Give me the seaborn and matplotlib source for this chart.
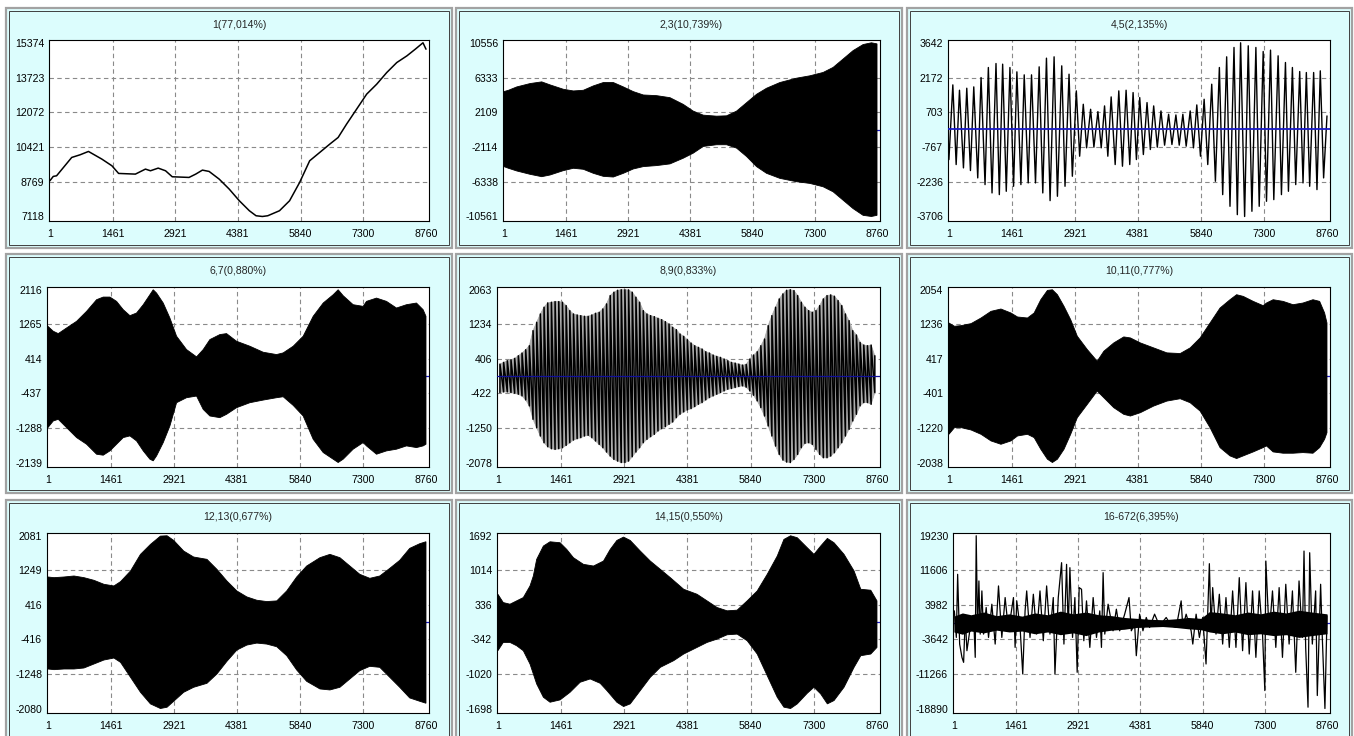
# SSA components chart: 9 panels, hourly index 1..8760
import numpy as np
import matplotlib
matplotlib.use("Agg")
import matplotlib.pyplot as plt
import seaborn as sns
from matplotlib.patches import Rectangle

sns.set_theme(style="white")
plt.rcParams["font.family"] = ["Liberation Sans", "DejaVu Sans"]

# -------------------------------
# Data
# -------------------------------
X_TICKS = [1, 1461, 2921, 4381, 5840, 7300, 8760]

TITLES = ["1(77,014%)", "2,3(10,739%)", "4,5(2,135%)",
          "6,7(0,880%)", "8,9(0,833%)", "10,11(0,777%)",
          "12,13(0,677%)", "14,15(0,550%)", "16-672(6,395%)"]

Y_TICKS = [
    [7118, 8769, 10421, 12072, 13723, 15374],
    [-10561, -6338, -2114, 2109, 6333, 10556],
    [-3706, -2236, -767, 703, 2172, 3642],
    [-2139, -1288, -437, 414, 1265, 2116],
    [-2078, -1250, -422, 406, 1234, 2063],
    [-2038, -1220, -401, 417, 1236, 2054],
    [-2080, -1248, -416, 416, 1249, 2081],
    [-1698, -1020, -342, 336, 1014, 1692],
    [-18890, -11266, -3642, 3982, 11606, 19230],
]

# component 1: trend
P1_X = [1, 79, 157, 509, 704, 899, 1211, 1445, 1601, 1992, 2226, 2343, 2523, 2694, 2850,
        3241, 3397, 3553, 3709, 3943, 4177, 4412, 4646, 4802, 4950, 5075, 5348, 5583, 5817,
        6051, 6285, 6519, 6714, 6910, 7144, 7378, 7612, 7846, 8080, 8315, 8510, 8690, 8760]
P1_Y = [8816, 9022, 9053, 9924, 10050, 10209, 9845, 9528, 9164, 9132, 9370, 9291, 9417, 9291, 9006,
        8974, 9132, 9322, 9259, 8895, 8420, 7866, 7391, 7153, 7118, 7153, 7391, 7866, 8736,
        9766, 10161, 10557, 10874, 11507, 12219, 12932, 13406, 13960, 14435, 14752, 15069, 15374, 15069]

# components 2,3: envelope
P2_X = [1, 109, 304, 617, 890, 1086, 1398, 1633, 1867, 2102, 2336, 2571, 2806, 3040, 3275, 3587,
        3900, 4213, 4447, 4682, 4994, 5229, 5463, 5698, 5932, 6167, 6480, 6871, 7183, 7496, 7730,
        7965, 8199, 8434, 8629, 8760]
P2_UP = [4618, 4782, 5190, 5599, 5804, 5436, 4904, 4700, 4782, 5313, 5722, 5722, 5190, 4618, 4210, 4128,
         3883, 3065, 2248, 1757, 1635, 1676, 2248, 3270, 4291, 5027, 5722, 6253, 6539, 6948, 7561,
         8583, 9604, 10340, 10556, 10422]
P2_LO = [-4496, -4700, -5027, -5436, -5722, -5517, -4986, -4700, -4823, -5313, -5681, -5763, -5313, -4782,
         -4496, -4373, -4169, -3474, -2861, -2044, -1839, -1839, -2248, -3270, -4496, -5313, -5926, -6335,
         -6539, -6948, -7561, -8583, -9604, -10421, -10561, -10421]

# components 4,5: peaks and troughs
P3_X = [1, 92, 169, 246, 338, 415, 500, 577, 669, 746, 838, 915, 1000, 1092, 1169, 1246, 1330, 1415,
        1499, 1576, 1669, 1746, 1838, 1915, 2007, 2092, 2176, 2261, 2345, 2438, 2515, 2615, 2691, 2784,
        2861, 2953, 3030, 3114, 3191, 3284, 3360, 3453, 3530, 3607, 3683, 3760, 3853, 3937, 4022, 4106,
        4191, 4268, 4345, 4422, 4506, 4591, 4668, 4745, 4829, 4914, 4998, 5091, 5168, 5260, 5337, 5421,
        5498, 5591, 5667, 5744, 5829, 5914, 5998, 6090, 6175, 6267, 6344, 6436, 6513, 6606, 6683, 6759,
        6852, 6936, 7021, 7113, 7190, 7282, 7359, 7452, 7528, 7628, 7705, 7798, 7867, 7959, 8036, 8128,
        8205, 8282, 8359, 8451, 8528, 8605, 8682, 8760]
P3_Y = [-1300, 1861, -1509, 1635, -1650, 1720, -1763, 1776, -2074, 2172, -2357, 2596, -2710, 2765, -2781,
        2737, -2640, 2596, -2428, 2412, -2357, 2285, -2286, 2285, -2286, 2624, -2710, 2991, -3035, 3048,
        -2851, 2666, -2428, 2313, -2004, 1607, -1156, 1041, -802, 829, -774, 730, -802, 971, -1156, 1352,
        -1509, 1607, -1580, 1635, -1509, 1536, -1297, 1324, -1085, 1112, -873, 971, -774, 759, -689, 617,
        -661, 589, -689, 617, -731, 759, -802, 1013, -1156, 1253, -1509, 1889, -2216, 2596, -2781, 3048,
        -3275, 3444, -3628, 3642, -3706, 3514, -3486, 3444, -3275, 3274, -3063, 3331, -2993, 3090, -2781,
        2808, -2640, 2596, -2357, 2426, -2286, 2384, -2428, 2384, -2569, 2455, -2074, 547]

# components 6,7: envelope
P4_X = [1, 125, 241, 434, 666, 897, 1129, 1283, 1438, 1592, 1747, 1901, 2055, 2210, 2364, 2441, 2519,
        2673, 2827, 2982, 3213, 3445, 3599, 3754, 3985, 4140, 4371, 4680, 4989, 5298, 5452, 5684, 5915,
        6147, 6379, 6610, 6726, 6842, 7073, 7305, 7382, 7614, 7845, 8077, 8309, 8540, 8694, 8760]
P4_UP = [1216, 1094, 1036, 1175, 1339, 1584, 1871, 1936, 1936, 1830, 1625, 1478, 1543, 1748, 1993, 2116,
         2034, 1789, 1421, 971, 643, 463, 643, 889, 1012, 1036, 848, 725, 577, 520, 561, 725, 971, 1462,
         1789, 1993, 2116, 1969, 1748, 1707, 1830, 1911, 1830, 1666, 1748, 1789, 1625, 1462]
P4_LO = [-1280, -1116, -1075, -1280, -1525, -1689, -1935, -1959, -1853, -1689, -1525, -1484, -1607, -1853,
         -2057, -2098, -1975, -1648, -1239, -666, -543, -502, -830, -993, -1034, -952, -789, -666, -601,
         -543, -519, -732, -993, -1566, -1893, -2057, -2139, -2057, -1811, -1648, -1730, -1935, -1853,
         -1811, -1730, -1771, -1730, -1689]

# components 8,9: stripe tops and bottoms
P5_X = [48, 133, 218, 303, 388, 473, 558, 643, 728, 813, 897, 982, 1067, 1152, 1237, 1322, 1407, 1492,
        1577, 1662, 1747, 1832, 1916, 2001, 2086, 2171, 2256, 2341, 2426, 2511, 2596, 2681, 2766, 2851,
        2935, 3020, 3105, 3190, 3275, 3360, 3445, 3530, 3615, 3700, 3785, 3870, 3955, 4039, 4124, 4209,
        4294, 4379, 4464, 4549, 4634, 4719, 4804, 4889, 4974, 5058, 5143, 5228, 5313, 5398, 5483, 5568,
        5653, 5738, 5823, 5908, 5993, 6077, 6162, 6247, 6332, 6417, 6502, 6587, 6672, 6757, 6842, 6927,
        7012, 7096, 7181, 7266, 7351, 7436, 7521, 7606, 7691, 7776, 7861, 7946, 8031, 8115, 8200, 8285,
        8370, 8455, 8540, 8625, 8710]
P5_TOP = [280, 321, 361, 385, 417, 481, 545, 625, 721, 1082, 1282, 1482, 1643, 1747, 1763, 1779, 1779,
          1763, 1683, 1562, 1482, 1458, 1442, 1426, 1426, 1458, 1498, 1522, 1603, 1723, 1923, 2003, 2050,
          2063, 2063, 2059, 2003, 1883, 1763, 1562, 1482, 1442, 1418, 1378, 1346, 1298, 1242, 1162, 1106,
          1002, 946, 865, 785, 721, 681, 641, 577, 545, 497, 465, 441, 401, 361, 321, 304, 280, 256, 272,
          401, 497, 577, 721, 881, 1202, 1442, 1643, 1843, 1963, 2050, 2063, 2043, 1923, 1763, 1643, 1562,
          1522, 1562, 1683, 1843, 1923, 1939, 1907, 1803, 1683, 1482, 1322, 1082, 978, 801, 737, 721, 737,
          481]
P5_BOT = [-401, -385, -385, -401, -417, -441, -481, -577, -721, -1042, -1242, -1442, -1603, -1699, -1747,
          -1763, -1747, -1723, -1667, -1603, -1539, -1506, -1482, -1442, -1426, -1482, -1562, -1643, -1723,
          -1827, -1923, -2003, -2043, -2078, -2078, -2043, -1939, -1827, -1723, -1603, -1522, -1458, -1402,
          -1322, -1266, -1218, -1162, -1106, -1002, -921, -865, -817, -785, -737, -681, -641, -577, -521,
          -481, -441, -401, -361, -321, -304, -280, -256, -240, -272, -361, -465, -601, -761, -962, -1202,
          -1442, -1683, -1883, -2019, -2067, -2078, -2003, -1883, -1723, -1619, -1603, -1643, -1763, -1883,
          -1963, -1963, -1923, -1843, -1723, -1603, -1442, -1282, -1082, -921, -721, -641, -641, -681, -401]

# components 10,11: envelope
P6_X = [1, 131, 284, 515, 746, 977, 1207, 1438, 1592, 1822, 1976, 2130, 2284, 2399, 2515, 2668, 2822,
        2976, 3207, 3437, 3591, 3822, 4053, 4206, 4437, 4745, 5052, 5360, 5591, 5821, 6052, 6283, 6513,
        6667, 6821, 7052, 7282, 7359, 7513, 7744, 7974, 8205, 8436, 8590, 8705, 8760]
P6_UP = [1267, 1189, 1204, 1252, 1385, 1543, 1598, 1504, 1409, 1385, 1504, 1818, 2039, 2054, 1937, 1661,
         1346, 953, 638, 362, 598, 795, 937, 913, 795, 677, 559, 543, 677, 913, 1267, 1622, 1818, 1937,
         1897, 1779, 1677, 1740, 1818, 1779, 1700, 1740, 1818, 1779, 1504, 1267]
P6_LO = [-1370, -1212, -1212, -1267, -1370, -1527, -1606, -1527, -1409, -1370, -1448, -1724, -1960, -2038,
         -1960, -1724, -1370, -976, -661, -346, -504, -740, -897, -937, -858, -701, -583, -527, -622, -819,
         -1212, -1685, -1881, -1944, -1881, -1787, -1685, -1645, -1787, -1818, -1818, -1803, -1818, -1685,
         -1488, -1330]

# components 12,13: envelope
P7_X = [1, 144, 375, 606, 837, 1068, 1299, 1530, 1684, 1915, 2146, 2377, 2608, 2762, 2916, 3147, 3378,
        3686, 3917, 4148, 4379, 4610, 4841, 5072, 5303, 5534, 5765, 5996, 6304, 6535, 6766, 6997, 7228,
        7459, 7690, 7921, 8152, 8383, 8614, 8760]
P7_UP = [1088, 1072, 1088, 1112, 1072, 1008, 912, 872, 976, 1232, 1633, 1873, 2073, 2081, 1969, 1713, 1569,
         1513, 1272, 992, 752, 608, 528, 496, 512, 752, 1088, 1352, 1553, 1633, 1553, 1352, 1152, 1056,
         1112, 1296, 1489, 1777, 1889, 1937]
P7_LO = [-1128, -1144, -1128, -1128, -1104, -1008, -912, -864, -968, -1328, -1689, -1969, -2080, -2049,
         -1905, -1689, -1569, -1473, -1248, -944, -672, -552, -504, -528, -592, -808, -1152, -1425, -1609,
         -1633, -1569, -1368, -1168, -1064, -1088, -1328, -1569, -1825, -1905, -1953]

# components 14,15: envelope (upper and lower read at different points)
P8_X_UP = [1, 125, 280, 434, 588, 743, 820, 897, 1052, 1206, 1438, 1592, 1747, 1978, 2210, 2441, 2596,
           2750, 2905, 3059, 3291, 3522, 3754, 3985, 4294, 4603, 4835, 5066, 5298, 5529, 5761, 5993, 6224,
           6456, 6610, 6764, 6919, 7150, 7305, 7459, 7614, 7768, 7999, 8231, 8386, 8617, 8760]
P8_UP = [544, 381, 349, 414, 479, 707, 903, 1229, 1490, 1574, 1555, 1424, 1261, 1131, 1098, 1196, 1424,
         1600, 1666, 1600, 1392, 1196, 1033, 870, 642, 544, 414, 284, 219, 232, 414, 609, 935, 1294, 1620,
         1692, 1653, 1457, 1327, 1490, 1640, 1555, 1327, 1001, 642, 623, 414]
P8_X_LO = [1, 125, 280, 434, 588, 743, 897, 1052, 1206, 1438, 1669, 1901, 2133, 2364, 2519, 2750, 2905,
           3059, 3291, 3522, 3754, 4063, 4294, 4603, 4835, 5066, 5298, 5529, 5761, 5993, 6224, 6456, 6610,
           6764, 6919, 7150, 7305, 7459, 7614, 7768, 7999, 8231, 8386, 8617, 8760]
P8_LO = [-564, -401, -401, -466, -564, -825, -1216, -1477, -1575, -1529, -1379, -1183, -1118, -1203, -1346,
         -1575, -1659, -1607, -1346, -1086, -890, -759, -629, -499, -401, -336, -251, -238, -368, -629,
         -1053, -1477, -1672, -1698, -1607, -1398, -1281, -1411, -1607, -1542, -1281, -890, -662, -629, -499]

# components 16-672: residual spikes plus dense core band
P9_X = [11, 58, 89, 136, 190, 229, 268, 307, 385, 463, 502, 525, 557, 588, 619, 658, 697, 759, 814, 892,
        970, 1048, 1126, 1204, 1282, 1399, 1438, 1477, 1555, 1617, 1672, 1710, 1788, 1866, 1944, 2022,
        2100, 2178, 2256, 2334, 2373, 2451, 2529, 2584, 2646, 2685, 2724, 2786, 2841, 2895, 2942, 2997,
        3051, 3114, 3192, 3270, 3348, 3426, 3465, 3504, 3543, 3621, 3737, 3815, 3893, 4010, 4112, 4166,
        4244, 4283, 4361, 4439, 4517, 4595, 4712, 4829, 4985, 5102, 5219, 5336, 5375, 5453, 5570, 5609,
        5687, 5764, 5842, 5920, 5998, 6037, 6076, 6154, 6232, 6310, 6388, 6466, 6544, 6622, 6700, 6778,
        6856, 6934, 7012, 7090, 7168, 7246, 7300, 7324, 7402, 7480, 7558, 7636, 7714, 7792, 7870, 7948,
        8026, 8103, 8181, 8220, 8259, 8314, 8353, 8415, 8493, 8532, 8610, 8649, 8711, 8760]
P9_Y = [2661, -3203, 10724, -4669, -7601, -8701, 1195, -6135, -1004, 1561, -7601, 19230, -1737, 9258,
        -2470, 7059, -2470, 3394, -3203, 4127, -4669, 8159, -3203, 5593, -1737, 5593, -5402, 4860, -1004,
        -11266, 2661, 7059, -3203, 6326, -2470, 7059, -3936, 8159, -2470, 5593, -11266, 5593, 13289, -4669,
        12922, -1737, 12189, -3203, 5593, -10899, 7792, 7425, -3936, 4860, -5402, 5593, -3203, 2661, -5402,
        11090, -2470, 4127, -1737, 3027, -1737, 1928, 5593, -1737, -271, -7234, 1928, -1737, 1195, -1004,
        1928, -637, 1195, -637, -1004, 4860, -1004, 1928, -1737, -4669, 1928, -3203, 1195, -9067, 13069,
        -1004, 7792, -2470, 6326, -4669, 5593, -5402, 7059, -5402, 9991, -6135, 8892, -6868, 7059, -7601,
        7059, -2470, -14931, 13656, -2470, 7059, -5402, 7792, -7601, 8525, -4669, 7059, -10899, 9258,
        -3203, 15855, -5402, -18600, 15488, -4669, 7059, -16024, 8525, -3203, -18890, 1561]
P9_CORE_X = [1, 200, 400, 700, 1000, 1300, 1600, 1900, 2200, 2500, 2800, 3100, 3400, 3700, 4000, 4300,
             4600, 4900, 5200, 5500, 5800, 6000, 6300, 6600, 6900, 7200, 7500, 7800, 8100, 8400, 8760]
P9_CORE_HI = [1500, 2200, 1800, 2400, 1600, 2000, 1500, 2200, 1800, 2600, 2000, 2400, 1800, 1600, 1200,
              1000, 800, 700, 900, 1200, 1000, 2500, 2200, 1800, 2400, 2000, 2600, 2200, 2800, 2400, 2000]
P9_CORE_LO = [-2000, -2500, -1800, -2200, -1600, -2000, -1800, -2400, -2000, -2600, -2200, -2800, -2000,
              -1600, -1400, -1000, -900, -800, -1000, -1300, -1500, -2000, -2400, -2000, -2600, -2400,
              -2800, -2600, -3200, -2800, -2400]

# -------------------------------
# Layout (pixels of the 1354x736 canvas)
# -------------------------------
W, H = 1354, 736
FRAME_COLS = [(6, 452), (456, 902), (907, 1352)]
FRAME_ROWS = [(8, 248), (254, 493), (500, 740)]
AX_BOXES = [  # left, right, top, bottom
    (49, 429, 40, 221), (503, 880, 40, 221), (948, 1330, 40, 221),
    (47, 429, 287, 467), (497, 880, 287, 467), (948, 1330, 287, 467),
    (47, 429, 533, 713), (497, 880, 533, 713), (953, 1330, 533, 713),
]

GRID_KW = dict(color="#8a8a8a", lw=0.8, ls=(0, (4, 3)), zorder=0.5)
ZERO_COLOR = "#1a1ac8"

fig = plt.figure(figsize=(W / 100, H / 100), dpi=100, facecolor="white")

for (fx0, fx1) in FRAME_COLS:
    for (fy0, fy1) in FRAME_ROWS:
        fig.add_artist(Rectangle((fx0 / W, 1 - fy1 / H), (fx1 - fx0) / W, (fy1 - fy0) / H,
                                 transform=fig.transFigure, facecolor="#dcfdfd",
                                 edgecolor="#a2a2a2", lw=1.6, zorder=-5))
        fig.add_artist(Rectangle(((fx0 + 3) / W, 1 - (fy1 - 3) / H), (fx1 - fx0 - 6) / W,
                                 (fy1 - fy0 - 6) / H, transform=fig.transFigure,
                                 facecolor="none", edgecolor="#404040", lw=0.7, zorder=-4))

axes = []
for (l, r, t, b) in AX_BOXES:
    axes.append(fig.add_axes([l / W, 1 - b / H, (r - l) / W, (b - t) / H]))


def style_axis(ax, yticks, title):
    lo, hi = yticks[0], yticks[-1]
    span = hi - lo
    ax.set_facecolor("white")
    ax.set_xlim(-20, 8830)
    ax.set_ylim(lo - 0.026 * span, hi + 0.016 * span)
    ax.set_xticks(X_TICKS)
    ax.set_xticklabels([str(v) for v in X_TICKS])
    ax.set_yticks(yticks)
    ax.set_yticklabels([str(v) for v in yticks])
    ax.tick_params(axis="both", length=0, labelsize=7.6, colors="black")
    ax.tick_params(axis="x", pad=6)
    ax.tick_params(axis="y", pad=3.5)
    for v in X_TICKS[1:-1]:
        ax.axvline(v, **GRID_KW)
    for v in yticks[1:-1]:
        ax.axhline(v, **GRID_KW)
    for sp in ax.spines.values():
        sp.set_color("black")
        sp.set_linewidth(0.8)
        sp.set_visible(True)
    ax.set_title(title, fontsize=7.6, pad=9)
    ax.set_xlabel("")
    ax.set_ylabel("")


def envelope(ax, xu, yu, xl, yl, color="black", z=2):
    ax.fill(np.concatenate([xu, xl[::-1]]), np.concatenate([yu, yl[::-1]]),
            color=color, lw=0.6, zorder=z)


# panel 1: trend
ax = axes[0]
sns.lineplot(x=P1_X, y=P1_Y, ax=ax, color="black", lw=1.1, estimator=None, sort=False, zorder=2)

# panel 2
ax = axes[1]
ax.axhline(0, color=ZERO_COLOR, lw=0.9, zorder=1)
envelope(ax, P2_X, P2_UP, P2_X, P2_LO)

# panel 3
ax = axes[2]
sns.lineplot(x=P3_X, y=P3_Y, ax=ax, color="black", lw=1.0, estimator=None, sort=False, zorder=2)
ax.axhline(0, color=ZERO_COLOR, lw=1.3, zorder=3)

# panel 4
ax = axes[3]
ax.axhline(0, color=ZERO_COLOR, lw=0.9, zorder=1)
envelope(ax, P4_X, P4_UP, P4_X, P4_LO)

# panel 5: gray body, black stripes drawn bottom->top then over to the next stripe
ax = axes[4]
envelope(ax, P5_X, P5_TOP, P5_X, P5_BOT, color="#ababab", z=1.5)
stripe_x = np.repeat(P5_X, 2)
stripe_y = np.column_stack([P5_BOT, P5_TOP]).ravel()
sns.lineplot(x=stripe_x, y=stripe_y, ax=ax, color="black", lw=1.1, estimator=None, sort=False, zorder=2)
ax.axhline(0, color="#10109a", lw=0.9, zorder=3)

# panel 6
ax = axes[5]
ax.axhline(0, color=ZERO_COLOR, lw=0.9, zorder=1)
envelope(ax, P6_X, P6_UP, P6_X, P6_LO)

# panel 7
ax = axes[6]
ax.axhline(0, color=ZERO_COLOR, lw=0.9, zorder=1)
envelope(ax, P7_X, P7_UP, P7_X, P7_LO)

# panel 8
ax = axes[7]
ax.axhline(0, color=ZERO_COLOR, lw=0.9, zorder=1)
envelope(ax, P8_X_UP, P8_UP, P8_X_LO, P8_LO)

# panel 9: residual
ax = axes[8]
ax.axhline(0, color=ZERO_COLOR, lw=0.9, zorder=1)
ax.fill_between(P9_CORE_X, P9_CORE_LO, P9_CORE_HI, color="black", lw=0, zorder=2)
sns.lineplot(x=P9_X, y=P9_Y, ax=ax, color="black", lw=0.9, estimator=None, sort=False, zorder=2)

for ax, yt, title in zip(axes, Y_TICKS, TITLES):
    style_axis(ax, yt, title)

fig.savefig("out.png", dpi=100, facecolor=fig.get_facecolor())
